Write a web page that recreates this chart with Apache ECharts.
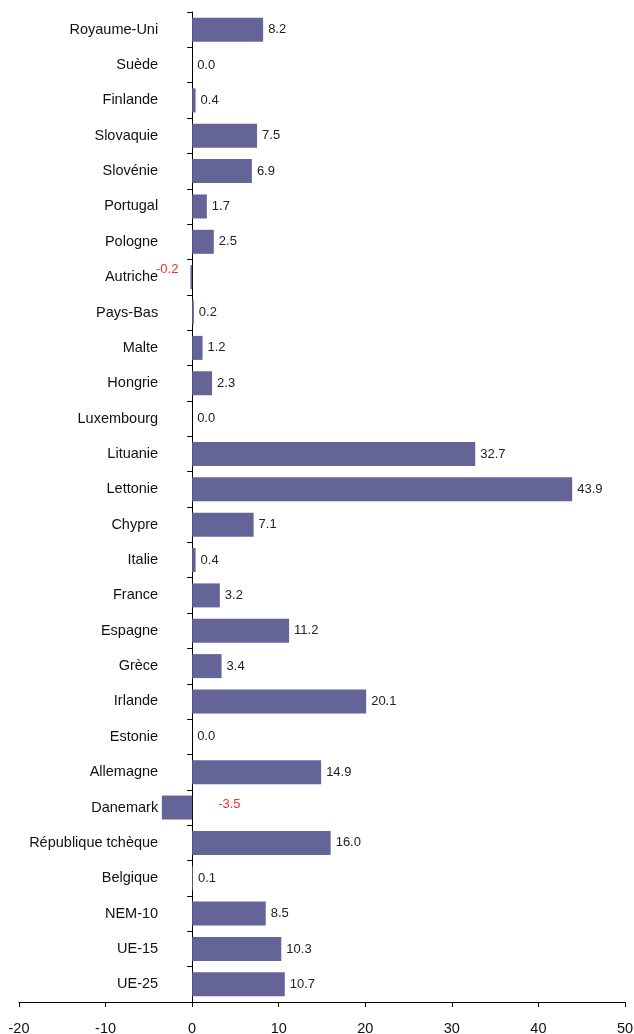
<!DOCTYPE html>
<html>
<head>
<meta charset="utf-8">
<script src="https://cdn.jsdelivr.net/npm/echarts@6/dist/echarts.min.js"></script>
<style>
  html, body { margin: 0; padding: 0; background: #fff; }
  #chart { width: 634px; height: 1034px; }
</style>
</head>
<body>
<div id="chart"></div>
<script>
// Countries, listed top to bottom
const countries = [
  'Royaume-Uni', 'Suède', 'Finlande', 'Slovaquie', 'Slovénie', 'Portugal',
  'Pologne', 'Autriche', 'Pays-Bas', 'Malte', 'Hongrie', 'Luxembourg',
  'Lituanie', 'Lettonie', 'Chypre', 'Italie', 'France', 'Espagne', 'Grèce',
  'Irlande', 'Estonie', 'Allemagne', 'Danemark', 'République tchèque',
  'Belgique', 'NEM-10', 'UE-15', 'UE-25'
];
const values = [
  8.2, 0.0, 0.4, 7.5, 6.9, 1.7,
  2.5, -0.2, 0.2, 1.2, 2.3, 0.0,
  32.7, 43.9, 7.1, 0.4, 3.2, 11.2, 3.4,
  20.1, 0.0, 14.9, -3.5, 16.0,
  0.1, 8.5, 10.3, 10.7
];
const xTicks = [-20, -10, 0, 10, 20, 30, 40, 50];

const FONT = 'Liberation Sans, Arial, sans-serif';
const BAR = '#646498';

const GRID_LEFT = 19, GRID_RIGHT = 9;
const CHART_W = 634;
// The category axis is drawn on the zero line of the value axis
const xMin = xTicks[0], xMax = xTicks[xTicks.length - 1];
const zeroShift = (0 - xMin) / (xMax - xMin) * (CHART_W - GRID_LEFT - GRID_RIGHT);

// Negative values get red labels; Autriche's sits above-left, Danemark's to the right of zero
const negLabel = {
  'Autriche': { position: 'left', distance: 12, offset: [0, -8] },
  'Danemark': { position: 'right', distance: 26, offset: [0, -3] }
};

const seriesData = values.map((v, i) => {
  const item = { value: v };
  const n = negLabel[countries[i]];
  if (n) {
    item.label = Object.assign({ color: '#ff2b2b' }, n);
  }
  return item;
});

const chart = echarts.init(document.getElementById('chart'), null, { renderer: 'canvas' });
chart.setOption({
  animation: false,
  backgroundColor: '#ffffff',
  grid: { left: GRID_LEFT, right: GRID_RIGHT, top: 12, bottom: 32, containLabel: false, outerBoundsMode: 'none' },
  xAxis: {
    type: 'value',
    min: xMin,
    max: xMax,
    interval: 10,
    splitLine: { show: false },
    axisLine: { show: true, lineStyle: { color: '#000', width: 1 } },
    axisTick: { show: true, inside: false, length: 5, lineStyle: { color: '#000' } },
    axisLabel: {
      color: '#111', fontFamily: FONT, fontSize: 14.5, margin: 19,
      formatter: v => String(v)
    }
  },
  yAxis: {
    type: 'category',
    data: countries,
    inverse: true,
    position: 'left',
    offset: -zeroShift,
    axisLine: { show: true, onZero: false, lineStyle: { color: '#000', width: 1 } },
    axisTick: { show: true, inside: false, length: 5, lineStyle: { color: '#000' } },
    axisLabel: { color: '#111', fontFamily: FONT, fontSize: 14.5, margin: 34 }
  },
  series: [{
    type: 'bar',
    data: seriesData,
    barWidth: 24,
    itemStyle: { color: BAR },
    label: {
      show: true,
      position: 'right',
      distance: 5,
      color: '#222',
      fontFamily: FONT,
      fontSize: 13,
      formatter: p => p.value.toFixed(1)
    }
  }]
});
</script>
</body>
</html>
